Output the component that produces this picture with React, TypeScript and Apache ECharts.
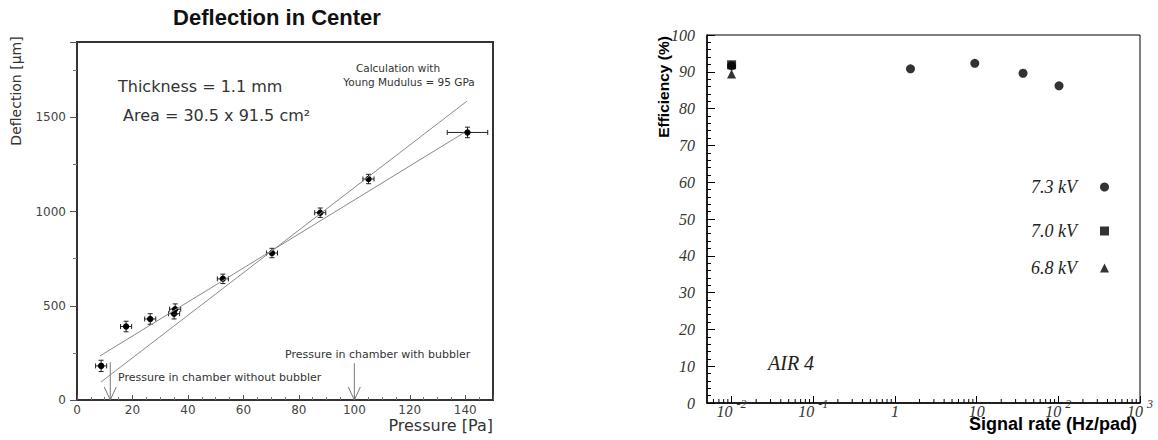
import React, { useEffect, useRef } from "react";
import * as echarts from "echarts";

// ---------- Left chart: Deflection in Center ----------
const pressure = [8.7, 17.7, 26.4, 35, 35.4, 52.6, 70.3, 87.7, 105.1, 140.8];
const deflection = [181, 390, 430, 458, 482, 643, 780, 994, 1173, 1420];
const pressureErr = [2, 2, 2, 2, 2, 2, 2, 2, 2, 7.3];
const deflectionErr = [30, 28, 28, 28, 28, 25, 25, 25, 25, 28];

const fitLine = [
  [8.3, 234],
  [139.5, 1418],
];
const calcLine = [
  [8.7, 96],
  [140.6, 1586],
];

const arrowPressure = [12, 100];
const arrowTop = [200, 195];

const pressureTicks = [0, 20, 40, 60, 80, 100, 120, 140];
const deflectionTicks = [0, 500, 1000, 1500];

// ---------- Right chart: Efficiency vs signal rate ----------
const rate73 = [0.01, 1.55, 9.5, 37, 102];
const eff73 = [91.6, 90.8, 92.3, 89.6, 86.2];
const rate70 = [0.01];
const eff70 = [91.9];
const rate68 = [0.01];
const eff68 = [89.4];

const seriesNames = ["7.3 kV", "7.0 kV", "6.8 kV"];

// log-axis minor tick positions (2..9 x 10^d)
const minorDecades = [-3, -2, -1, 0, 1, 2];
const minorMultipliers = [2, 3, 4, 5, 6, 7, 8, 9];

const serifItalic = {
  fontFamily: "Liberation Serif, Times New Roman, serif",
  fontStyle: "italic" as const,
};

export default function App() {
  const ref = useRef<HTMLDivElement>(null);

  useEffect(() => {
    if (!ref.current) return;
    const chart = echarts.init(ref.current, undefined, { renderer: "svg" });

    const errData = pressure.map((p, i) => [p, deflection[i], pressureErr[i], deflectionErr[i]]);
    const arrowData = arrowPressure.map((p, i) => [p, arrowTop[i]]);
    const minorRates: number[][] = [];
    minorDecades.forEach((d) =>
      minorMultipliers.forEach((m) => {
        const v = m * Math.pow(10, d);
        if (v > 0.005 && v < 1000) minorRates.push([v, 0]);
      })
    );

    const legendTops = [173, 217, 254];

    const option: any = {
      animation: false,
      backgroundColor: "#fff",
      title: {
        text: "Deflection in Center",
        left: 272,
        top: 1,
        textAlign: "center",
        textStyle: {
          fontFamily: "Liberation Sans, Arial, sans-serif",
          fontWeight: "bold",
          fontSize: 22,
          color: "#111",
        },
      },
      grid: [
        {
          left: 77,
          top: 42,
          width: 416,
          height: 358,
          show: true,
          borderColor: "#333",
          borderWidth: 2,
          outerBoundsMode: "none",
          containLabel: false,
        },
        {
          left: 707,
          top: 35,
          width: 433,
          height: 368,
          show: true,
          borderColor: "#000",
          borderWidth: 1,
          outerBoundsMode: "none",
          containLabel: false,
        },
      ],
      legend: seriesNames.map((name, i) => ({
        data: [name],
        left: 1026,
        top: legendTops[i],
        align: "right",
        itemWidth: 9,
        itemHeight: 9,
        icon: ["circle", "rect", "triangle"][i],
        selectedMode: false,
        textStyle: {
          ...serifItalic,
          fontSize: 18,
          color: "#222",
          padding: [0, 18, 0, 0],
        },
      })),
      xAxis: [
        {
          type: "value",
          gridIndex: 0,
          min: 0,
          max: 150,
          interval: 20,
          name: "Pressure [Pa]",
          nameLocation: "end",
          nameGap: 0,
          nameTextStyle: {
            fontFamily: "DejaVu Sans, sans-serif",
            fontSize: 16,
            color: "#333",
            align: "right",
            verticalAlign: "top",
            padding: [17, 0, 0, 0],
          },
          axisLine: { show: true, lineStyle: { color: "#333", width: 2 } },
          axisTick: { inside: true, length: 5, lineStyle: { color: "#555" } },
          minorTick: { show: true, splitNumber: 4, length: 3, lineStyle: { color: "#777" } },
          axisLabel: {
            showMaxLabel: false,
            color: "#444",
            fontSize: 12,
            fontFamily: "DejaVu Sans, sans-serif",
            margin: 4,
            formatter: (v: number) => (pressureTicks.includes(v) ? String(v) : ""),
          },
          splitLine: { show: false },
        },
        {
          type: "log",
          gridIndex: 1,
          logBase: 10,
          min: 0.005,
          max: 1000,
          axisLine: { show: true, lineStyle: { color: "#000", width: 1.5 } },
          axisTick: { inside: true, length: 7, lineStyle: { color: "#000" } },
          axisLabel: {
            showMinLabel: false,
            margin: -5,
            formatter: (v: number) => {
              const e = Math.round(Math.log10(v));
              if (e === 0) return "{b|1}";
              if (e === 1) return "{b|10}";
              return "{b|10}{s|" + e + "}";
            },
            rich: {
              b: { ...serifItalic, fontSize: 16, lineHeight: 16, color: "#333", padding: [10, 0, 0, 0] },
              s: {
                ...serifItalic,
                fontSize: 12,
                lineHeight: 14,
                color: "#333",
                verticalAlign: "top",
                padding: [0, 0, 0, 4],
              },
            },
          },
          splitLine: { show: false },
          minorTick: { show: false },
        },
      ],
      yAxis: [
        {
          type: "value",
          gridIndex: 0,
          min: 0,
          max: 1900,
          interval: 500,
          axisLine: { show: true, lineStyle: { color: "#333", width: 2 } },
          axisTick: { inside: false, length: 7, lineStyle: { color: "#555" } },
          minorTick: { show: true, splitNumber: 2, length: 4, lineStyle: { color: "#777" } },
          axisLabel: {
            showMaxLabel: false,
            color: "#444",
            fontSize: 12,
            fontFamily: "DejaVu Sans, sans-serif",
            margin: 11,
            formatter: (v: number) => (deflectionTicks.includes(v) ? String(v) : ""),
          },
          splitLine: { show: false },
        },
        {
          type: "value",
          gridIndex: 1,
          min: 0,
          max: 100,
          interval: 10,
          axisLine: { show: true, lineStyle: { color: "#000", width: 1.5 } },
          axisTick: { inside: true, length: 8, lineStyle: { color: "#000" } },
          minorTick: { show: true, splitNumber: 5, length: 4, lineStyle: { color: "#000" } },
          axisLabel: { ...serifItalic, fontSize: 16, color: "#333", margin: 12 },
          splitLine: { show: false },
        },
      ],
      graphic: [
        {
          type: "text",
          x: 16,
          y: 91,
          rotation: Math.PI / 2,
          style: {
            text: "Deflection [μm]",
            font: "14px DejaVu Sans, sans-serif",
            fill: "#333",
            align: "center",
            verticalAlign: "middle",
          },
        },
        {
          type: "text",
          x: 118,
          y: 86,
          style: {
            text: "Thickness = 1.1 mm",
            font: "16px DejaVu Sans, sans-serif",
            fill: "#333",
            align: "left",
            verticalAlign: "middle",
          },
        },
        {
          type: "text",
          x: 123,
          y: 115,
          style: {
            text: "Area = 30.5 x 91.5 cm²",
            font: "16px DejaVu Sans, sans-serif",
            fill: "#333",
            align: "left",
            verticalAlign: "middle",
          },
        },
        {
          type: "text",
          x: 398,
          y: 68,
          style: {
            text: "Calculation with",
            font: "10.5px DejaVu Sans, sans-serif",
            fill: "#333",
            align: "center",
            verticalAlign: "middle",
          },
        },
        {
          type: "text",
          x: 409,
          y: 82,
          style: {
            text: "Young Mudulus = 95 GPa",
            font: "10.5px DejaVu Sans, sans-serif",
            fill: "#333",
            align: "center",
            verticalAlign: "middle",
          },
        },
        {
          type: "text",
          x: 118,
          y: 377,
          style: {
            text: "Pressure in chamber without bubbler",
            font: "11px DejaVu Sans, sans-serif",
            fill: "#333",
            align: "left",
            verticalAlign: "middle",
          },
        },
        {
          type: "text",
          x: 285,
          y: 354,
          style: {
            text: "Pressure in chamber with bubbler",
            font: "11px DejaVu Sans, sans-serif",
            fill: "#333",
            align: "left",
            verticalAlign: "middle",
          },
        },
        {
          type: "text",
          x: 663,
          y: 87,
          rotation: Math.PI / 2,
          style: {
            text: "Efficiency (%)",
            font: "bold 15.5px Liberation Sans, Arial, sans-serif",
            fill: "#000",
            align: "center",
            verticalAlign: "middle",
          },
        },
        {
          type: "text",
          x: 1137,
          y: 424,
          z: 10,
          style: {
            text: "Signal rate (Hz/pad)",
            font: "bold 18px Liberation Sans, Arial, sans-serif",
            fill: "#000",
            align: "right",
            verticalAlign: "middle",
          },
        },
        {
          type: "text",
          x: 768,
          y: 363,
          style: {
            text: "AIR 4",
            font: "italic 20px Liberation Serif, Times New Roman, serif",
            fill: "#222",
            align: "left",
            verticalAlign: "middle",
          },
        },
      ],
      series: [
        {
          type: "line",
          name: "fit",
          xAxisIndex: 0,
          yAxisIndex: 0,
          data: fitLine,
          symbol: "none",
          lineStyle: { color: "#8a8a8a", width: 1 },
          silent: true,
        },
        {
          type: "line",
          name: "calculation",
          xAxisIndex: 0,
          yAxisIndex: 0,
          data: calcLine,
          symbol: "none",
          lineStyle: { color: "#8a8a8a", width: 1 },
          silent: true,
        },
        {
          type: "custom",
          name: "arrows",
          xAxisIndex: 0,
          yAxisIndex: 0,
          data: arrowData,
          silent: true,
          renderItem: (params: any, api: any) => {
            const top = api.coord([api.value(0), api.value(1)]);
            const bot = api.coord([api.value(0), 0]);
            const st = { stroke: "#777", lineWidth: 1, fill: "none" };
            return {
              type: "group",
              children: [
                { type: "line", shape: { x1: top[0], y1: top[1], x2: bot[0], y2: bot[1] }, style: st },
                {
                  type: "polyline",
                  shape: {
                    points: [
                      [bot[0] - 6, bot[1] - 13],
                      [bot[0], bot[1]],
                      [bot[0] + 6, bot[1] - 13],
                    ],
                  },
                  style: st,
                },
              ],
            };
          },
        },
        {
          type: "custom",
          name: "errors",
          xAxisIndex: 0,
          yAxisIndex: 0,
          data: errData,
          renderItem: (params: any, api: any) => {
            const x = api.value(0);
            const y = api.value(1);
            const xe = api.value(2);
            const ye = api.value(3);
            const c = api.coord([x, y]);
            const l = api.coord([x - xe, y]);
            const r = api.coord([x + xe, y]);
            const t = api.coord([x, y + ye]);
            const b = api.coord([x, y - ye]);
            const st = { stroke: "#222", lineWidth: 1 };
            const cap = 2.5;
            return {
              type: "group",
              children: [
                { type: "line", shape: { x1: l[0], y1: l[1], x2: r[0], y2: r[1] }, style: st },
                { type: "line", shape: { x1: l[0], y1: l[1] - cap, x2: l[0], y2: l[1] + cap }, style: st },
                { type: "line", shape: { x1: r[0], y1: r[1] - cap, x2: r[0], y2: r[1] + cap }, style: st },
                { type: "line", shape: { x1: t[0], y1: t[1], x2: b[0], y2: b[1] }, style: st },
                { type: "line", shape: { x1: t[0] - cap, y1: t[1], x2: t[0] + cap, y2: t[1] }, style: st },
                { type: "line", shape: { x1: b[0] - cap, y1: b[1], x2: b[0] + cap, y2: b[1] }, style: st },
                { type: "circle", shape: { cx: c[0], cy: c[1], r: 3.2 }, style: { fill: "#000" } },
              ],
            };
          },
        },
        {
          type: "scatter",
          name: seriesNames[1],
          xAxisIndex: 1,
          yAxisIndex: 1,
          symbol: "rect",
          symbolSize: 9,
          itemStyle: { color: "#000" },
          data: rate70.map((r, i) => [r, eff70[i]]),
        },
        {
          type: "scatter",
          name: seriesNames[0],
          xAxisIndex: 1,
          yAxisIndex: 1,
          symbol: "circle",
          symbolSize: 9,
          itemStyle: { color: "#000" },
          data: rate73.map((r, i) => [r, eff73[i]]),
        },
        {
          type: "scatter",
          name: seriesNames[2],
          xAxisIndex: 1,
          yAxisIndex: 1,
          symbol: "triangle",
          symbolSize: 9,
          itemStyle: { color: "#000" },
          data: rate68.map((r, i) => [r, eff68[i]]),
        },
        {
          type: "custom",
          name: "logMinorTicks",
          xAxisIndex: 1,
          yAxisIndex: 1,
          data: minorRates,
          silent: true,
          renderItem: (params: any, api: any) => {
            const p = api.coord([api.value(0), 0]);
            return {
              type: "line",
              shape: { x1: p[0], y1: p[1], x2: p[0], y2: p[1] - 4 },
              style: { stroke: "#000", lineWidth: 1 },
            };
          },
        },
      ],
    };

    chart.setOption(option);
    return () => chart.dispose();
  }, []);

  return (
    <div
      ref={ref}
      style={{ position: "fixed", left: 0, top: 0, width: 1158, height: 440, background: "#fff" }}
    />
  );
}
